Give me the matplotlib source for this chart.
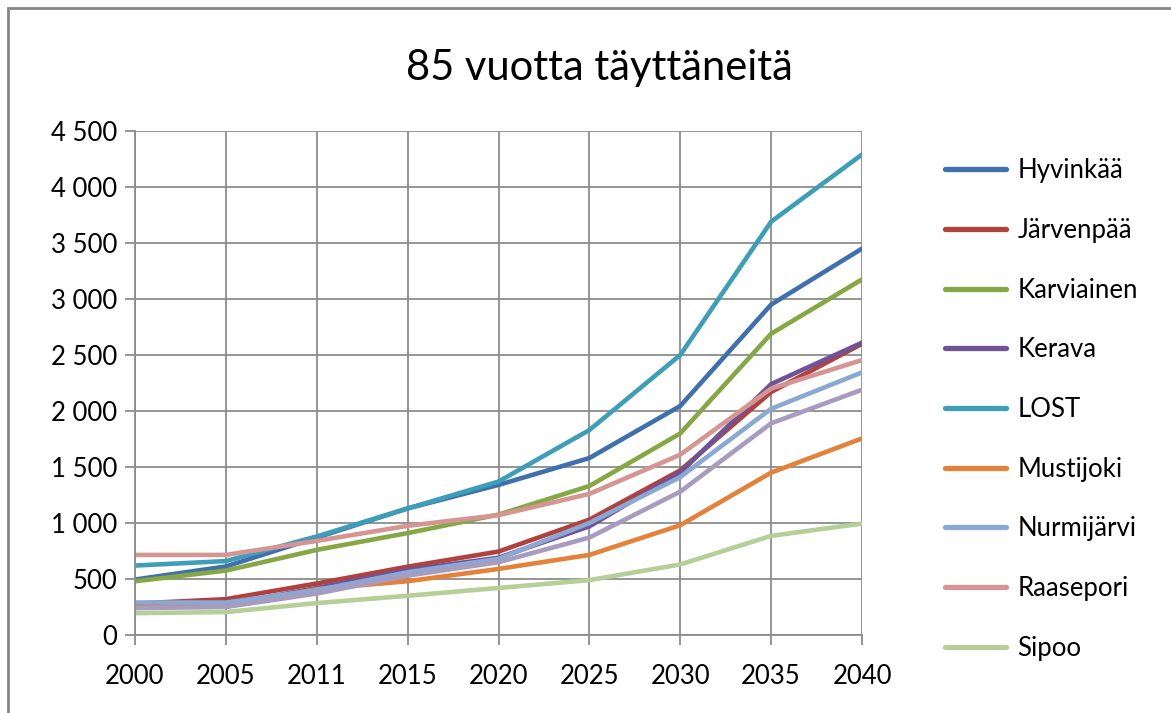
import matplotlib
matplotlib.use("Agg")
import matplotlib.pyplot as plt
from matplotlib.patches import Rectangle
from matplotlib.ticker import FuncFormatter

plt.rcParams['font.family'] = ['Lato', 'DejaVu Sans']

years = ['2000', '2005', '2011', '2015', '2020', '2025', '2030', '2035', '2040']

hyvinkaa = [495, 612, 870, 1130, 1340, 1580, 2045, 2950, 3450]
jarvenpaa = [280, 320, 460, 610, 745, 1030, 1470, 2170, 2600]
karviainen = [480, 575, 760, 910, 1075, 1330, 1800, 2690, 3175]
kerava = [260, 270, 420, 580, 690, 970, 1450, 2240, 2610]
lost = [620, 660, 880, 1130, 1370, 1830, 2500, 3690, 4290]
mustijoki = [250, 260, 410, 480, 590, 715, 980, 1450, 1755]
nurmijarvi = [290, 290, 400, 560, 680, 1000, 1410, 2020, 2345]
raasepori = [715, 715, 840, 975, 1070, 1260, 1610, 2200, 2455]
sipoo = [195, 205, 285, 350, 420, 490, 630, 885, 995]
tuusula = [240, 250, 370, 530, 650, 870, 1280, 1890, 2190]

series = [
    ("Hyvinkää", hyvinkaa, "#3F70AD"),
    ("Järvenpää", jarvenpaa, "#B0413E"),
    ("Karviainen", karviainen, "#86A844"),
    ("Kerava", kerava, "#6F5397"),
    ("LOST", lost, "#3C9EB8"),
    ("Mustijoki", mustijoki, "#E5823A"),
    ("Nurmijärvi", nurmijarvi, "#8AA8D4"),
    ("Raasepori", raasepori, "#D59593"),
    ("Sipoo", sipoo, "#B5CF98"),
    ("Tuusula", tuusula, "#A89BC0"),  # legend entry cut off in original
]

fig = plt.figure(figsize=(11.71, 7.13), dpi=100)
ax = fig.add_axes([135 / 1171, 78 / 713, 727 / 1171, 504 / 713])

x = list(range(len(years)))
handles = []
for name, vals, col in series:
    ln, = ax.plot(x, vals, color=col, lw=3.3, solid_capstyle='round',
                  solid_joinstyle='round', label=name)
    handles.append(ln)

grid_col = "#8C8C8C"
ax.set_xlim(0, len(years) - 1)
ax.set_ylim(0, 4500)
ax.set_yticks(range(0, 4501, 500))
ax.yaxis.set_major_formatter(FuncFormatter(lambda v, p: f"{int(v):,}".replace(",", " ")))
ax.set_xticks(x)
ax.set_xticklabels(years)
ax.grid(True, color=grid_col, lw=1.3)
ax.set_axisbelow(True)
for s in ['top', 'right']:
    ax.spines[s].set_visible(False)
for s in ['left', 'bottom']:
    ax.spines[s].set_color(grid_col)
    ax.spines[s].set_linewidth(1.3)
ax.tick_params(axis='both', colors=grid_col, labelcolor='black', labelsize=18.5,
               length=7, width=1.3)
ax.tick_params(axis='x', pad=14)
ax.tick_params(axis='y', pad=6)

fig.text(0.512, 0.905, "85 vuotta täyttäneitä", ha='center', va='center', fontsize=30)

ax.legend(handles=handles[:9], loc='upper left', bbox_to_anchor=(935 / 1171, 1 - 148 / 713),
          bbox_transform=fig.transFigure, frameon=False, fontsize=18.5,
          handlelength=2.35, handletextpad=0.45, labelspacing=1.35, borderaxespad=0)
for h in ax.get_legend().legend_handles:
    h.set_linewidth(3.8)

fig.patches.append(Rectangle((8 / 1171, -0.1), 1.2, 1 - 8 / 713 + 0.1, transform=fig.transFigure,
                             fill=False, edgecolor="#868686", lw=2))

fig.savefig("out.png", dpi=100)
